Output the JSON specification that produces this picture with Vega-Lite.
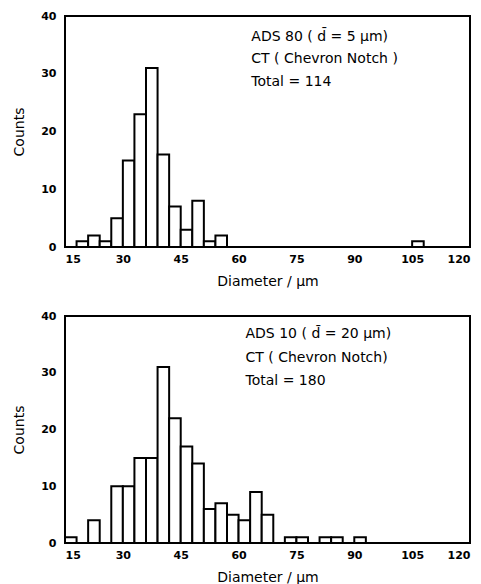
{
  "$schema": "https://vega.github.io/schema/vega-lite/v6.json",
  "padding": {"left": 11, "top": 9, "right": 5, "bottom": 0},
  "background": "white",
  "config": {
    "font": "DejaVu Sans",
    "view": {"stroke": "black", "strokeWidth": 2},
    "axis": {"grid": false, "domain": false, "ticks": false, "labelColor": "black", "titleColor": "black", "labelFont": "DejaVu Sans", "titleFont": "DejaVu Sans", "labelFontSize": 11, "titleFontSize": 14, "titleFontWeight": "normal", "labelFontWeight": "bold"},
    "concat": {"spacing": 69}
  },
  "bounds": "flush",
  "datasets": {
    "bars": [
      {"panel": "a", "lo": 18, "hi": 21, "count": 1},
      {"panel": "a", "lo": 21, "hi": 24, "count": 2},
      {"panel": "a", "lo": 24, "hi": 27, "count": 1},
      {"panel": "a", "lo": 27, "hi": 30, "count": 5},
      {"panel": "a", "lo": 30, "hi": 33, "count": 15},
      {"panel": "a", "lo": 33, "hi": 36, "count": 23},
      {"panel": "a", "lo": 36, "hi": 39, "count": 31},
      {"panel": "a", "lo": 39, "hi": 42, "count": 16},
      {"panel": "a", "lo": 42, "hi": 45, "count": 7},
      {"panel": "a", "lo": 45, "hi": 48, "count": 3},
      {"panel": "a", "lo": 48, "hi": 51, "count": 8},
      {"panel": "a", "lo": 51, "hi": 54, "count": 1},
      {"panel": "a", "lo": 54, "hi": 57, "count": 2},
      {"panel": "a", "lo": 105, "hi": 108, "count": 1},
      {"panel": "b", "lo": 15, "hi": 18, "count": 1},
      {"panel": "b", "lo": 21, "hi": 24, "count": 4},
      {"panel": "b", "lo": 27, "hi": 30, "count": 10},
      {"panel": "b", "lo": 30, "hi": 33, "count": 10},
      {"panel": "b", "lo": 33, "hi": 36, "count": 15},
      {"panel": "b", "lo": 36, "hi": 39, "count": 15},
      {"panel": "b", "lo": 39, "hi": 42, "count": 31},
      {"panel": "b", "lo": 42, "hi": 45, "count": 22},
      {"panel": "b", "lo": 45, "hi": 48, "count": 17},
      {"panel": "b", "lo": 48, "hi": 51, "count": 14},
      {"panel": "b", "lo": 51, "hi": 54, "count": 6},
      {"panel": "b", "lo": 54, "hi": 57, "count": 7},
      {"panel": "b", "lo": 57, "hi": 60, "count": 5},
      {"panel": "b", "lo": 60, "hi": 63, "count": 4},
      {"panel": "b", "lo": 63, "hi": 66, "count": 9},
      {"panel": "b", "lo": 66, "hi": 69, "count": 5},
      {"panel": "b", "lo": 72, "hi": 75, "count": 1},
      {"panel": "b", "lo": 75, "hi": 78, "count": 1},
      {"panel": "b", "lo": 81, "hi": 84, "count": 1},
      {"panel": "b", "lo": 84, "hi": 87, "count": 1},
      {"panel": "b", "lo": 90, "hi": 93, "count": 1}
    ],
    "notes": [
      {"panel": "a", "x": 63.3, "y": 36.4, "label": "ADS 80  ( d̄ = 5 µm)"},
      {"panel": "a", "x": 63.3, "y": 32.6, "label": "CT ( Chevron Notch )"},
      {"panel": "a", "x": 63.3, "y": 28.6, "label": "Total = 114"},
      {"panel": "b", "x": 61.8, "y": 36.8, "label": "ADS 10  ( d̄ = 20 µm)"},
      {"panel": "b", "x": 61.8, "y": 32.6, "label": "CT ( Chevron Notch)"},
      {"panel": "b", "x": 61.8, "y": 28.5, "label": "Total = 180"}
    ]
  },
  "vconcat": [
    {
      "width": 405,
      "height": 231,
      "layer": [
        {
          "data": {"name": "bars"},
          "transform": [{"filter": "datum.panel === 'a'"}],
          "mark": {"type": "rect", "fill": "white", "stroke": "black", "strokeWidth": 2},
          "encoding": {
            "x": {"field": "lo", "type": "quantitative", "scale": {"domain": [15, 120], "nice": false, "zero": false}, "axis": {"values": [15, 30, 45, 60, 75, 90, 105, 120], "title": "Diameter  /  µm", "labelPadding": 6, "titlePadding": 10}},
            "x2": {"field": "hi"},
            "y": {"field": "count", "type": "quantitative", "scale": {"domain": [0, 40], "nice": false}, "axis": {"values": [0, 10, 20, 30, 40], "title": "Counts", "labelPadding": 9, "titlePadding": 14}},
            "y2": {"datum": 0}
          }
        },
        {
          "data": {"name": "notes"},
          "transform": [{"filter": "datum.panel === 'a'"}],
          "mark": {"type": "text", "align": "left", "baseline": "middle", "fontSize": 14, "font": "DejaVu Sans", "color": "black"},
          "encoding": {
            "x": {"field": "x", "type": "quantitative"},
            "y": {"field": "y", "type": "quantitative"},
            "text": {"field": "label"}
          }
        }
      ]
    },
    {
      "width": 405,
      "height": 227,
      "layer": [
        {
          "data": {"name": "bars"},
          "transform": [{"filter": "datum.panel === 'b'"}],
          "mark": {"type": "rect", "fill": "white", "stroke": "black", "strokeWidth": 2},
          "encoding": {
            "x": {"field": "lo", "type": "quantitative", "scale": {"domain": [15, 120], "nice": false, "zero": false}, "axis": {"values": [15, 30, 45, 60, 75, 90, 105, 120], "title": "Diameter  /  µm", "labelPadding": 6, "titlePadding": 10}},
            "x2": {"field": "hi"},
            "y": {"field": "count", "type": "quantitative", "scale": {"domain": [0, 40], "nice": false}, "axis": {"values": [0, 10, 20, 30, 40], "title": "Counts", "labelPadding": 9, "titlePadding": 14}},
            "y2": {"datum": 0}
          }
        },
        {
          "data": {"name": "notes"},
          "transform": [{"filter": "datum.panel === 'b'"}],
          "mark": {"type": "text", "align": "left", "baseline": "middle", "fontSize": 14, "font": "DejaVu Sans", "color": "black"},
          "encoding": {
            "x": {"field": "x", "type": "quantitative"},
            "y": {"field": "y", "type": "quantitative"},
            "text": {"field": "label"}
          }
        }
      ]
    }
  ]
}
